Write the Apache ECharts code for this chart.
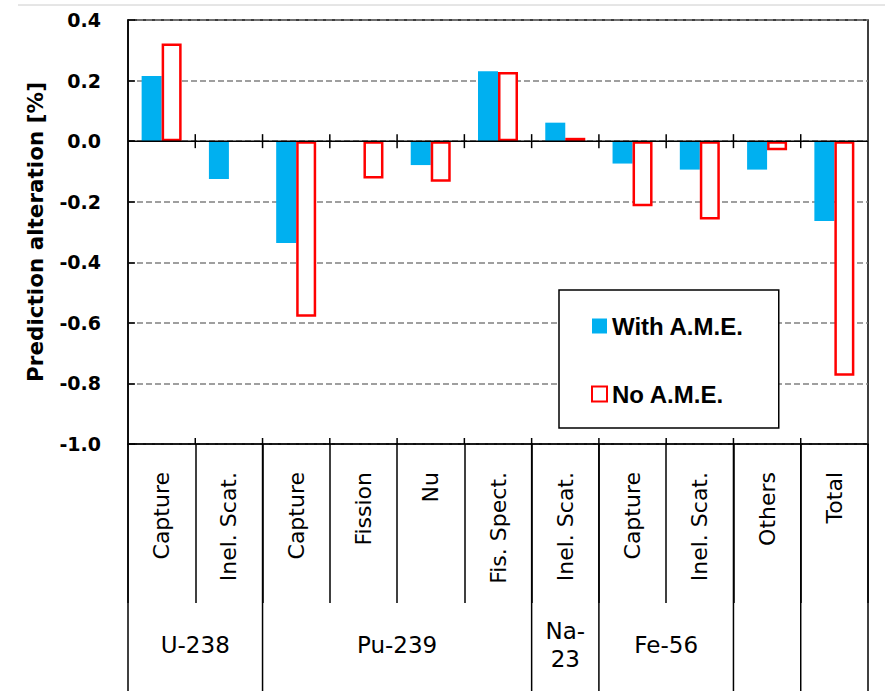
<!DOCTYPE html>
<html>
<head>
<meta charset="utf-8">
<script src="https://cdn.jsdelivr.net/npm/echarts@6/dist/echarts.min.js"></script>
<style>html,body{margin:0;padding:0;background:#fff;}#c{width:885px;height:691px;}</style>
</head>
<body>
<div id="c"></div>
<script>
const categories = ['Capture','Inel. Scat.','Capture','Fission','Nu','Fis. Spect.','Inel. Scat.','Capture','Inel. Scat.','Others','Total'];
const withAME = [0.215, -0.125, -0.336, null, -0.079, 0.231, 0.061, -0.074, -0.094, -0.094, -0.264];
const noAME   = [0.322, null, -0.580, -0.123, -0.134, 0.228, 0.011, -0.215, -0.259, -0.030, -0.775];
const groupNames = ['U-238', 'Pu-239', 'Na-\n23', 'Fe-56', '', ''];
const groupStart = [0, 2, 6, 7, 9, 10];
const groupEnd   = [1, 5, 6, 8, 9, 10];
const yTicks = { min: -1.0, max: 0.4, interval: 0.2 };

const chart = echarts.init(document.getElementById('c'), null, { renderer: 'svg' });

function renderFrame(params, api) {
  const c0 = api.coord([0, 0]);
  const bw = api.size([1, 0])[0];
  const left = c0[0] - bw / 2;
  const y0 = c0[1];
  const yBottom = api.coord([0, yTicks.min])[1];
  const H = api.getHeight();
  const children = [];
  const black = { stroke: '#000', lineWidth: 1.5 };
  children.push({ type: 'line', shape: { x1: left, y1: y0, x2: left + bw * categories.length, y2: y0 }, style: black });
  for (let i = 1; i < categories.length; i++) {
    const x = left + bw * i;
    children.push({ type: 'line', shape: { x1: x, y1: y0 - 7, x2: x, y2: y0 + 7 }, style: black });
    children.push({ type: 'line', shape: { x1: x, y1: yBottom - 6, x2: x, y2: yBottom }, style: black });
  }
  const bounds = [0].concat(groupEnd.map(e => e + 1));
  bounds.forEach(b => {
    const x = left + bw * b;
    children.push({ type: 'line', shape: { x1: x, y1: yBottom, x2: x, y2: H }, style: black });
  });
  groupNames.forEach((name, gi) => {
    if (!name) return;
    const cx = left + bw * (groupStart[gi] + groupEnd[gi] + 1) / 2;
    children.push({
      type: 'text',
      style: {
        text: name, x: cx, y: 645, align: 'center', verticalAlign: 'middle',
        fill: '#000', font: '23px "DejaVu Sans"', lineHeight: 28
      }
    });
  });
  return { type: 'group', children: children };
}

chart.setOption({
  animation: false,
  backgroundColor: '#fff',
  graphic: [{
    type: 'line', shape: { x1: 18, y1: 5, x2: 885, y2: 5 },
    style: { stroke: '#cccccc', lineWidth: 1 }, silent: true
  }],
  grid: {
    left: 128, right: 17, top: 20, bottom: 247,
    show: true, borderColor: '#000', borderWidth: 1.5, backgroundColor: 'transparent'
  },
  legend: {
    orient: 'vertical',
    left: 559, top: 290,
    padding: [24, 35, 22, 32],
    itemGap: 44,
    itemWidth: 15, itemHeight: 15,
    icon: 'rect',
    borderColor: '#000', borderWidth: 1.5, backgroundColor: '#fff',
    textStyle: { fontFamily: 'Liberation Sans', fontWeight: 'bold', fontSize: 24, color: '#000' },
    data: ['With A.M.E.', 'No A.M.E.']
  },
  xAxis: {
    type: 'category',
    data: categories,
    position: 'bottom',
    axisLine: { onZero: false, lineStyle: { color: '#000', width: 1.5 } },
    axisTick: { show: true, length: 159, lineStyle: { color: '#000', width: 1.5 } },
    axisLabel: {
      interval: 0, rotate: 90, margin: 28,
      fontFamily: 'DejaVu Sans', fontSize: 22, color: '#000'
    },
    splitLine: { show: false }
  },
  yAxis: {
    type: 'value',
    min: yTicks.min, max: yTicks.max, interval: yTicks.interval,
    name: 'Prediction alteration [%]',
    nameLocation: 'middle',
    nameGap: 82,
    nameTextStyle: { fontFamily: 'DejaVu Sans', fontWeight: 'bold', fontSize: 21.5, color: '#000' },
    axisLine: { show: true, lineStyle: { color: '#000', width: 1.5 } },
    axisTick: { show: true, inside: true, length: 7, lineStyle: { color: '#000', width: 1.5 } },
    axisLabel: {
      margin: 27, fontFamily: 'DejaVu Sans', fontWeight: 'bold', fontSize: 19, color: '#000',
      formatter: v => v.toFixed(1)
    },
    splitLine: { show: true, lineStyle: { color: '#808080', width: 1.5, type: [6, 3] } }
  },
  series: [
    {
      name: 'With A.M.E.', type: 'bar', data: withAME,
      barWidth: 20, barGap: '0%',
      itemStyle: { color: '#00B0F0' }
    },
    {
      name: 'No A.M.E.', type: 'bar', data: noAME,
      barWidth: 20, barGap: '0%',
      itemStyle: { color: '#ffffff', borderColor: '#FF0000', borderWidth: 2.5 }
    },
    {
      type: 'custom', renderItem: renderFrame, data: [[0, 0]],
      silent: true, clip: false, z: 5, legendHoverLink: false
    }
  ]
});
</script>
</body>
</html>
